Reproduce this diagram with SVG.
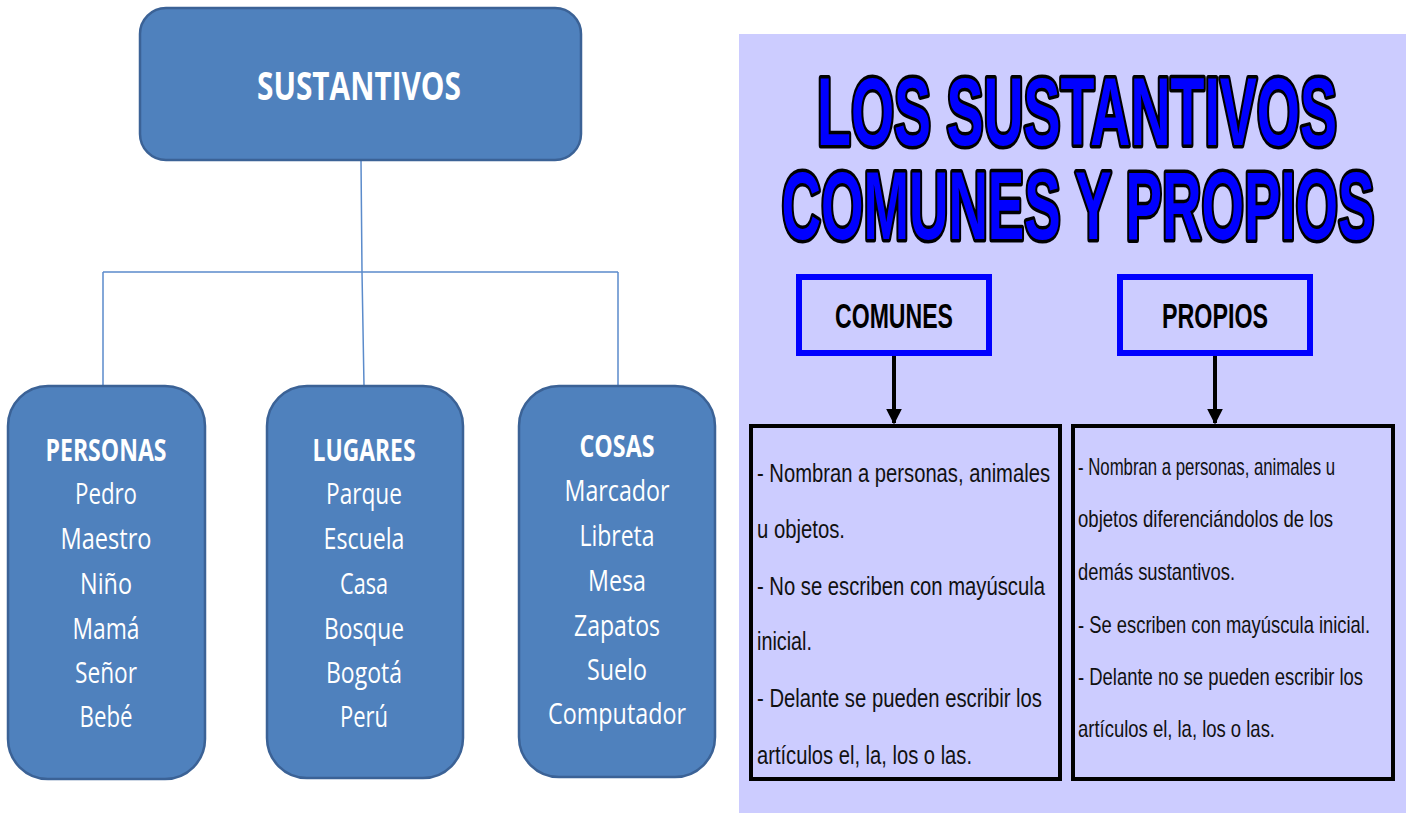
<svg xmlns="http://www.w3.org/2000/svg" width="1406" height="813" viewBox="0 0 1406 813">
<style>
.box{fill:#4F81BD;stroke:#3B6296;stroke-width:2.5}
.lt{font-family:"Open Sans","Liberation Sans",sans-serif;fill:#fff;font-size:30px;text-anchor:middle}
.b{font-weight:bold}
.big{font-size:39px}
.conn{stroke:#5B8BCB;stroke-width:1.5;fill:none}
.title{font-family:"Liberation Sans",Arial,sans-serif;font-weight:bold;font-size:97px;fill:#0000FF;stroke:#000;stroke-width:7;paint-order:stroke;stroke-linejoin:round;text-anchor:middle}
.hbox{fill:none;stroke:#0000FF;stroke-width:6}
.ht{font-family:"Liberation Sans",Arial,sans-serif;font-weight:bold;font-size:35px;fill:#000;text-anchor:middle}
.tbox{fill:none;stroke:#000;stroke-width:4}
.bt{font-family:"Liberation Sans",Arial,sans-serif;font-size:25px;fill:#111}
.bt2{font-family:"Liberation Sans",Arial,sans-serif;font-size:24px;fill:#111}
.arr{stroke:#000;stroke-width:4;fill:none}
</style>
<defs>
<marker id="ah" viewBox="0 0 10 10" refX="9" refY="5" markerWidth="4" markerHeight="4.5" markerUnits="strokeWidth" orient="auto">
<path d="M0,0 L10,5 L0,10 Z" fill="#000"/>
</marker>
</defs>
<rect width="1406" height="813" fill="#fff"/>

<g id="connectors">
<path class="conn" d="M361,160 L362,272 M103,272 L618,272 M103,272 L103,386 M618,272 L618,386 M362,272 L364,386"/>
</g>

<g id="node-sustantivos">
<rect class="box" x="140" y="8" width="441" height="152" rx="26"/>
<text class="lt b big" x="359" y="100" textLength="204" lengthAdjust="spacingAndGlyphs">SUSTANTIVOS</text>
</g>

<g id="node-personas">
<rect class="box" x="8" y="386" width="197" height="393" rx="40"/>
<text class="lt b" x="106" y="461" textLength="121" lengthAdjust="spacingAndGlyphs">PERSONAS</text>
<text class="lt" x="106" y="504" textLength="62" lengthAdjust="spacingAndGlyphs">Pedro</text>
<text class="lt" x="106" y="549" textLength="91" lengthAdjust="spacingAndGlyphs">Maestro</text>
<text class="lt" x="106" y="594" textLength="52" lengthAdjust="spacingAndGlyphs">Niño</text>
<text class="lt" x="106" y="639" textLength="67" lengthAdjust="spacingAndGlyphs">Mamá</text>
<text class="lt" x="106" y="683" textLength="62" lengthAdjust="spacingAndGlyphs">Señor</text>
<text class="lt" x="106" y="727" textLength="53" lengthAdjust="spacingAndGlyphs">Bebé</text>
</g>

<g id="node-lugares">
<rect class="box" x="267" y="386" width="196" height="392" rx="40"/>
<text class="lt b" x="364" y="461" textLength="103" lengthAdjust="spacingAndGlyphs">LUGARES</text>
<text class="lt" x="364" y="504" textLength="76" lengthAdjust="spacingAndGlyphs">Parque</text>
<text class="lt" x="364" y="549" textLength="81" lengthAdjust="spacingAndGlyphs">Escuela</text>
<text class="lt" x="364" y="594" textLength="48" lengthAdjust="spacingAndGlyphs">Casa</text>
<text class="lt" x="364" y="639" textLength="80" lengthAdjust="spacingAndGlyphs">Bosque</text>
<text class="lt" x="364" y="683" textLength="76" lengthAdjust="spacingAndGlyphs">Bogotá</text>
<text class="lt" x="364" y="727" textLength="48" lengthAdjust="spacingAndGlyphs">Perú</text>
</g>

<g id="node-cosas">
<rect class="box" x="519" y="386" width="196" height="391" rx="40"/>
<text class="lt b" x="617" y="457" textLength="75" lengthAdjust="spacingAndGlyphs">COSAS</text>
<text class="lt" x="617" y="501" textLength="105" lengthAdjust="spacingAndGlyphs">Marcador</text>
<text class="lt" x="617" y="546" textLength="75" lengthAdjust="spacingAndGlyphs">Libreta</text>
<text class="lt" x="617" y="591" textLength="58" lengthAdjust="spacingAndGlyphs">Mesa</text>
<text class="lt" x="617" y="636" textLength="86" lengthAdjust="spacingAndGlyphs">Zapatos</text>
<text class="lt" x="617" y="680" textLength="60" lengthAdjust="spacingAndGlyphs">Suelo</text>
<text class="lt" x="617" y="724" textLength="138" lengthAdjust="spacingAndGlyphs">Computador</text>
</g>

<rect id="panel" x="739" y="34" width="667" height="779" fill="#CCCCFF"/>

<g id="title">
<text class="title" x="1077" y="145" textLength="520" lengthAdjust="spacingAndGlyphs">LOS SUSTANTIVOS</text>
<text class="title" x="1078" y="239" textLength="593" lengthAdjust="spacingAndGlyphs">COMUNES Y PROPIOS</text>
</g>

<g id="connectors-right">
<line class="arr" x1="894" y1="355" x2="894" y2="423" marker-end="url(#ah)"/>
<line class="arr" x1="1215" y1="355" x2="1215" y2="423" marker-end="url(#ah)"/>
</g>

<g id="node-comunes">
<rect class="hbox" x="799" y="277" width="190" height="76"/>
<text class="ht" x="894" y="328" textLength="118" lengthAdjust="spacingAndGlyphs">COMUNES</text>
</g>

<g id="node-propios">
<rect class="hbox" x="1120" y="277" width="190" height="76"/>
<text class="ht" x="1215" y="328" textLength="106" lengthAdjust="spacingAndGlyphs">PROPIOS</text>
</g>

<g id="node-comunes-desc">
<rect class="tbox" x="751" y="426" width="309" height="353"/>
<text class="bt" x="757" y="482" textLength="293" lengthAdjust="spacingAndGlyphs">- Nombran a personas, animales</text>
<text class="bt" x="757" y="538" textLength="88" lengthAdjust="spacingAndGlyphs">u objetos.</text>
<text class="bt" x="757" y="595" textLength="288" lengthAdjust="spacingAndGlyphs">- No se escriben con mayúscula</text>
<text class="bt" x="757" y="650" textLength="55" lengthAdjust="spacingAndGlyphs">inicial.</text>
<text class="bt" x="757" y="707" textLength="285" lengthAdjust="spacingAndGlyphs">- Delante se pueden escribir los</text>
<text class="bt" x="757" y="764" textLength="215" lengthAdjust="spacingAndGlyphs">artículos el, la, los o las.</text>
</g>

<g id="node-propios-desc">
<rect class="tbox" x="1073" y="426" width="320" height="353"/>
<text class="bt2" x="1078" y="475" textLength="257" lengthAdjust="spacingAndGlyphs">- Nombran a personas, animales u</text>
<text class="bt2" x="1078" y="527" textLength="255" lengthAdjust="spacingAndGlyphs">objetos diferenciándolos de los</text>
<text class="bt2" x="1078" y="580" textLength="157" lengthAdjust="spacingAndGlyphs">demás sustantivos.</text>
<text class="bt2" x="1078" y="633" textLength="292" lengthAdjust="spacingAndGlyphs">- Se escriben con mayúscula inicial.</text>
<text class="bt2" x="1078" y="685" textLength="285" lengthAdjust="spacingAndGlyphs">- Delante no se pueden escribir los</text>
<text class="bt2" x="1078" y="737" textLength="197" lengthAdjust="spacingAndGlyphs">artículos el, la, los o las.</text>
</g>
</svg>
